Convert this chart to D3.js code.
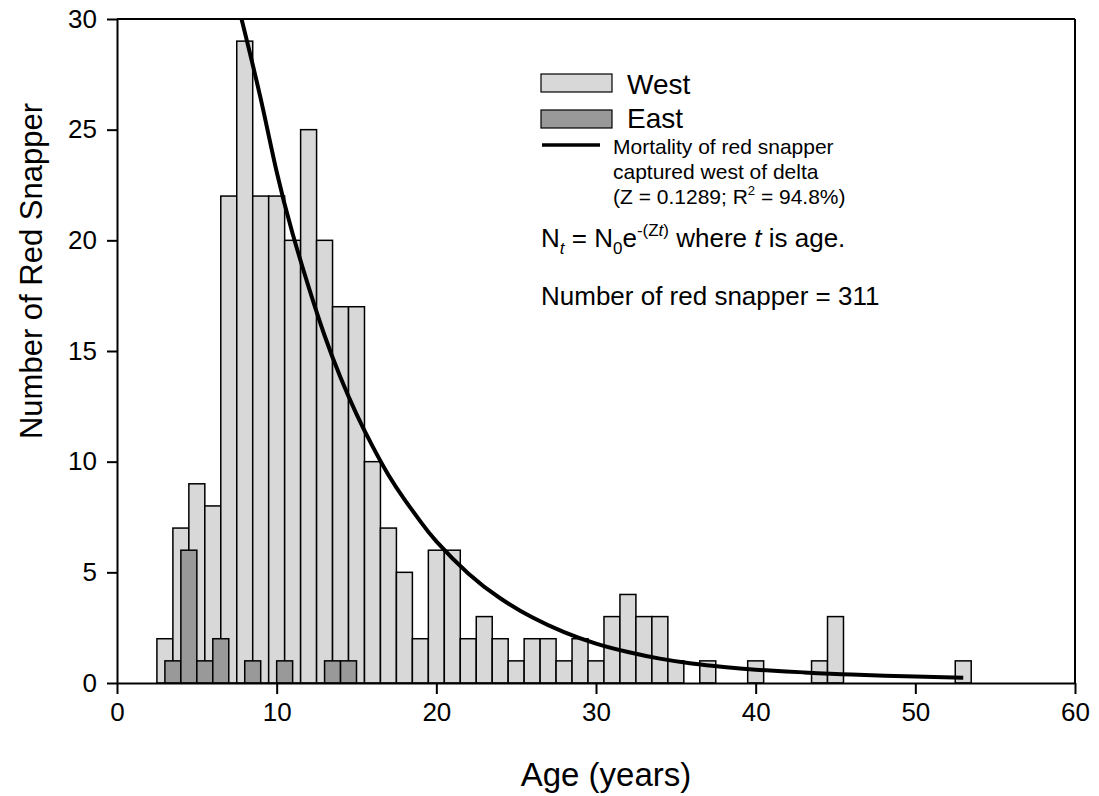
<!DOCTYPE html>
<html>
<head>
<meta charset="utf-8">
<script src="https://cdn.jsdelivr.net/npm/d3@7"></script>
<style>
  html, body { margin: 0; padding: 0; background: #fff; }
  svg { display: block; font-family: "Liberation Sans", Arial, sans-serif; }
</style>
</head>
<body>
<svg id="chart" width="1099" height="796"></svg>
<script>
// ---- Data ----
const westAges   = [3, 4, 5, 6, 7, 8, 9, 10, 11, 12, 13, 14, 15, 16, 17, 18, 19, 20, 21, 22, 23, 24, 25, 26, 27, 28, 29, 30, 31, 32, 33, 34, 35, 37, 40, 44, 45, 53];
const westCounts = [2, 7, 9, 8, 22, 29, 22, 22, 20, 25, 20, 17, 17, 10, 7, 5, 2, 6, 6, 2, 3, 2, 1, 2, 2, 1, 2, 1, 3, 4, 3, 3, 1, 1, 1, 1, 3, 1];
const eastAges   = [3.5, 4.5, 5.5, 6.5, 8.5, 10.5, 13.5, 14.5];
const eastCounts = [1, 6, 1, 2, 1, 1, 1, 1];
// Mortality curve (Z = 0.1289)
const curveAges   = [7.8, 9, 10, 11, 12, 13, 14, 15, 16, 17, 18, 19, 20, 22, 24, 26, 28, 30, 32, 34, 36, 38, 40, 43, 46, 50, 53];
const curveValues = [30, 26.4, 23.1, 20.3, 17.9, 15.7, 13.8, 12.15, 10.7, 9.4, 8.3, 7.3, 6.4, 4.95, 3.83, 2.97, 2.3, 1.78, 1.4, 1.1, 0.88, 0.72, 0.6, 0.48, 0.38, 0.29, 0.24];
const xTicks = [0, 10, 20, 30, 40, 50, 60];
const yTicks = [0, 5, 10, 15, 20, 25, 30];

// ---- Layout ----
const svg = d3.select("#chart");
const pL = 117, pR = 1075, pT = 19, pB = 683;
const x = d3.scaleLinear().domain([0, 60]).range([pL, pR]);
const y = d3.scaleLinear().domain([0, 30]).range([pB, pT]);

svg.append("defs").append("clipPath").attr("id", "plotClip")
  .append("rect").attr("x", pL).attr("y", pT).attr("width", pR - pL).attr("height", pB - pT);

const westData = westAges.map((a, i) => ({ age: a, n: westCounts[i] }));
const eastData = eastAges.map((a, i) => ({ age: a, n: eastCounts[i] }));

// West bars
svg.append("g").selectAll("rect").data(westData).join("rect")
  .attr("x", d => x(d.age - 0.5))
  .attr("width", d => x(d.age + 0.5) - x(d.age - 0.5))
  .attr("y", d => y(d.n))
  .attr("height", d => y(0) - y(d.n))
  .attr("fill", "#d8d8d8")
  .attr("stroke", "#000")
  .attr("stroke-width", 1.5);

// East bars
svg.append("g").selectAll("rect").data(eastData).join("rect")
  .attr("x", d => x(d.age - 0.5))
  .attr("width", d => x(d.age + 0.5) - x(d.age - 0.5))
  .attr("y", d => y(d.n))
  .attr("height", d => y(0) - y(d.n))
  .attr("fill", "#999999")
  .attr("stroke", "#000")
  .attr("stroke-width", 1.5);

// Curve
const curveData = curveAges.map((a, i) => [a, curveValues[i]]);
svg.append("path")
  .attr("clip-path", "url(#plotClip)")
  .attr("d", d3.line().x(d => x(d[0])).y(d => y(d[1])).curve(d3.curveNatural)(curveData))
  .attr("fill", "none")
  .attr("stroke", "#000")
  .attr("stroke-width", 4);

// Axes
const xAxis = svg.append("g").attr("transform", `translate(0,${pB})`)
  .call(d3.axisBottom(x).tickValues(xTicks).tickSize(11).tickPadding(9).tickSizeOuter(0));
const yAxis = svg.append("g").attr("transform", `translate(${pL},0)`)
  .call(d3.axisLeft(y).tickValues(yTicks).tickSize(10).tickPadding(10).tickSizeOuter(0));
[xAxis, yAxis].forEach(g => {
  g.select(".domain").attr("stroke", "#000").attr("stroke-width", 2);
  g.selectAll(".tick line").attr("stroke", "#000").attr("stroke-width", 2);
  g.selectAll(".tick text").attr("fill", "#000").style("font-size", "26px")
    .style("font-family", "'Liberation Sans', Arial, sans-serif");
});
// Frame (top and right)
svg.append("line").attr("x1", pL).attr("x2", pR).attr("y1", pT).attr("y2", pT)
  .attr("stroke", "#000").attr("stroke-width", 2);
svg.append("line").attr("x1", pR).attr("x2", pR).attr("y1", pT).attr("y2", pB)
  .attr("stroke", "#000").attr("stroke-width", 2);

// Axis titles
svg.append("text").attr("x", (pL + pR) / 2 + 10).attr("y", 786)
  .attr("text-anchor", "middle").style("font-size", "33px").text("Age (years)");
svg.append("text").attr("transform", `translate(42,271) rotate(-90)`)
  .attr("text-anchor", "middle").style("font-size", "31px").text("Number of Red Snapper");

// Legend
const lg = svg.append("g");
lg.append("rect").attr("x", 541).attr("y", 74).attr("width", 71).attr("height", 18)
  .attr("fill", "#d8d8d8").attr("stroke", "#000").attr("stroke-width", 1.2);
lg.append("text").attr("x", 627).attr("y", 94).style("font-size", "28px").text("West");
lg.append("rect").attr("x", 541).attr("y", 110).attr("width", 71).attr("height", 18)
  .attr("fill", "#999999").attr("stroke", "#000").attr("stroke-width", 1.2);
lg.append("text").attr("x", 627).attr("y", 128).style("font-size", "28px").text("East");
lg.append("line").attr("x1", 542).attr("x2", 600).attr("y1", 145).attr("y2", 145)
  .attr("stroke", "#000").attr("stroke-width", 3.5);
lg.append("text").attr("x", 613).attr("y", 154).style("font-size", "21px").text("Mortality of red snapper");
lg.append("text").attr("x", 613).attr("y", 179).style("font-size", "21px").text("captured west of delta");
const zt = lg.append("text").attr("x", 613).attr("y", 204).style("font-size", "21px");
zt.append("tspan").text("(Z = 0.1289; R");
zt.append("tspan").attr("dy", -9).style("font-size", "13px").text("2");
zt.append("tspan").attr("dy", 9).text(" = 94.8%)");

const eq = lg.append("text").attr("x", 541).attr("y", 247).style("font-size", "26px");
eq.append("tspan").text("N");
eq.append("tspan").attr("dy", 7).style("font-size", "17px").style("font-style", "italic").text("t");
eq.append("tspan").attr("dy", -7).text(" = N");
eq.append("tspan").attr("dy", 7).style("font-size", "17px").text("0");
eq.append("tspan").attr("dy", -7).text("e");
eq.append("tspan").attr("dy", -11).style("font-size", "17px").text("-(Z");
eq.append("tspan").style("font-size", "17px").style("font-style", "italic").text("t");
eq.append("tspan").style("font-size", "17px").text(")");
eq.append("tspan").attr("dy", 11).text(" where ");
eq.append("tspan").style("font-style", "italic").text("t");
eq.append("tspan").text(" is age.");

lg.append("text").attr("x", 541).attr("y", 305).style("font-size", "26px").text("Number of red snapper = 311");
</script>
</body>
</html>
